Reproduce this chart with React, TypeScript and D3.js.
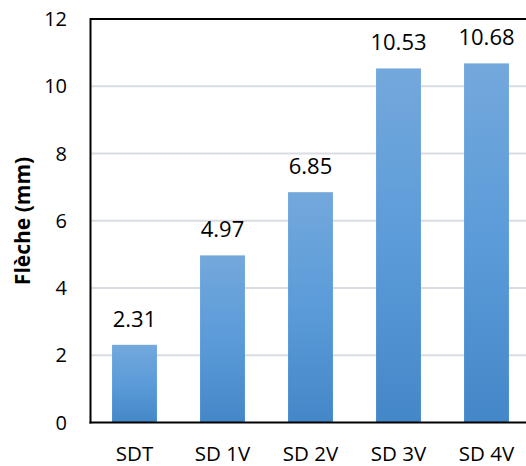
import React from "react";
import * as d3 from "d3";

const categories = ["SDT", "SD 1V", "SD 2V", "SD 3V", "SD 4V"];
const values = [2.31, 4.97, 6.85, 10.53, 10.68];
const yTicks = [0, 2, 4, 6, 8, 10, 12];
const yTitle = "Flèche (mm)";

const W = 526;
const H = 466;
const left = 90.5;
const right = 530.5;
const top = 19;
const bottom = 422.5;
const font = "'Open Sans', 'Noto Sans', sans-serif";

export default function App() {
  const x = d3.scaleBand<string>().domain(categories).range([left, right]).paddingInner(0.49).paddingOuter(0.245);
  const y = d3.scaleLinear().domain([0, 12]).range([bottom, top]);
  return (
    <svg width={W} height={H} style={{ position: "absolute", left: 0, top: 0, background: "#fff" }}>
      <defs>
        <linearGradient id="barGrad" x1="0" y1="0" x2="0" y2="1">
          <stop offset="0" stopColor="#73a8dc" />
          <stop offset="0.5" stopColor="#5b9bd9" />
          <stop offset="1" stopColor="#4487c8" />
        </linearGradient>
      </defs>
      {yTicks.slice(1, -1).map((t) => (
        <line key={t} x1={left} x2={W} y1={y(t)} y2={y(t)} stroke="#d9dde3" strokeWidth={2} />
      ))}
      {yTicks.map((t) => (
        <text key={"t" + t} x={67} y={y(t)} dy="0.35em" textAnchor="end" fontFamily={font} fontSize={20} fill="#000">
          {t}
        </text>
      ))}
      {categories.map((c, i) => {
        const bx = x(c)!;
        const bw = x.bandwidth();
        return (
          <g key={c}>
            <rect x={bx} y={y(values[i])} width={bw} height={bottom - y(values[i])} fill="url(#barGrad)" />
            <text x={bx + bw / 2} y={y(values[i]) - 18} textAnchor="middle" fontFamily={font} fontSize={22} fill="#000">
              {values[i].toFixed(2)}
            </text>
            <text x={bx + bw / 2} y={461} textAnchor="middle" fontFamily={font} fontSize={20.5} fill="#000">
              {c}
            </text>
          </g>
        );
      })}
      <line x1={left} x2={W} y1={top} y2={top} stroke="#000" strokeWidth={2} />
      <line x1={left} x2={left} y1={top - 1} y2={bottom + 1} stroke="#000" strokeWidth={2} />
      <line x1={left - 1} x2={W} y1={bottom} y2={bottom} stroke="#000" strokeWidth={2} />
      <text
        transform={`translate(30, 221) rotate(-90)`}
        textAnchor="middle"
        fontFamily={font}
        fontSize={21}
        fontWeight="bold"
        fill="#000"
      >
        {yTitle}
      </text>
    </svg>
  );
}
